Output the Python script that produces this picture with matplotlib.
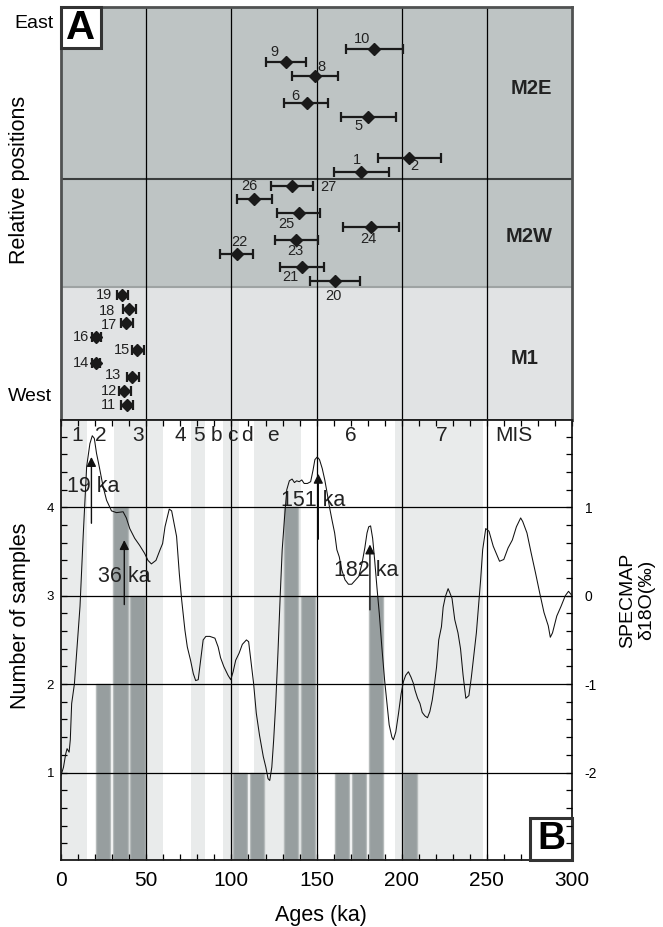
import matplotlib
matplotlib.use("Agg")
import matplotlib.pyplot as plt
from matplotlib.patches import Rectangle
import numpy as np

plt.rcParams['font.family'] = ['Liberation Sans', 'DejaVu Sans']
plt.rcParams['axes.unicode_minus'] = False

# ---------------- data ----------------
# Panel A: sample ages (ka) with error ranges and relative positions (East top -> West bottom)
sample_ids = [10, 9, 8, 6, 5, 2, 1, 27, 26, 25, 24, 23, 22, 21, 20,
              19, 18, 17, 16, 15, 14, 13, 12, 11]
sample_age = [183.9, 131.9, 149.3, 144.1, 180.4, 204.2, 176.2, 135.4, 113.4, 139.6, 181.7, 138.1, 103.0, 141.3, 160.9,
              35.6, 39.9, 38.1, 20.5, 44.6, 20.5, 41.8, 37.1, 38.4]
sample_lo = [167.1, 120.3, 135.6, 130.9, 164.1, 185.9, 160.1, 123.0, 103.5, 126.7, 165.3, 125.5, 93.3, 128.5, 146.0,
             32.9, 36.4, 34.9, 18.0, 41.6, 18.0, 38.4, 33.9, 35.1]
sample_hi = [200.7, 143.8, 162.6, 156.7, 196.5, 223.0, 192.3, 148.0, 124.0, 152.2, 198.3, 150.7, 112.4, 154.2, 175.5,
             39.1, 43.8, 42.3, 23.5, 48.5, 23.0, 45.8, 40.8, 42.3]
sample_pos = [37.1, 35.8, 34.4, 31.7, 30.3, 26.2, 24.8, 23.4, 22.1, 20.7, 19.3, 18.0, 16.6, 15.3, 13.9,
              12.5, 11.1, 9.73, 8.33, 7.0, 5.67, 4.27, 2.93, 1.53]
groups = ["M2E", "M2W", "M1"]

# Panel B: histogram (10 ka bins)
bin_start = [20, 30, 40, 100, 110, 130, 140, 160, 170, 180, 200]
bin_count = [2, 4, 3, 1, 1, 4, 3, 1, 1, 3, 1]

# MIS glacial shading bands (ka)
band_start = [0, 30.9, 76.0, 95.3, 113.4, 196.0]
band_end = [15.3, 60.1, 84.7, 104.7, 140.6, 247.5]
mis_labels = ["1", "2", "3", "4", "5", "b", "c", "d", "e", "6", "7", "MIS"]
mis_ages = [9.4, 23.5, 45.3, 70.0, 81.0, 91.1, 100.3, 109.2, 124.5, 170.0, 223.3, 266.0]

# SPECMAP d18O curve (ka, permil)
spec_age = [0, 1.4, 2.7, 3.5, 4.7, 5.4, 6.2, 7.8, 9.1, 11.1, 13, 15, 16.9, 18.3, 19.5, 20.8, 22.4, 24.7, 26.7,
            29.6, 32.5, 36.4, 38.3, 40.3, 43.2, 46.1, 49, 51, 53, 55.7, 58.1, 59.6, 61, 62.4, 63.5, 64.9, 66.3,
            67.8, 69.4, 70.8, 72.7, 74.1, 76, 77.6, 79, 80.5, 81.9, 83.4, 85, 87.3, 90.3, 92.2, 93.6, 95.5, 98,
            99.6, 101, 102.5, 104.5, 106.4, 108.8, 110.1, 111.7, 113, 114.6, 116.5, 118.7, 120.2, 121.5, 122.5,
            123.7, 124.8, 126, 127.3, 128.7, 129.8, 131.2, 132.5, 134, 135.6, 137, 138.3, 139.8, 141.3, 142.7,
            144.6, 146.5, 147.9, 149, 150.4, 151.7, 153.3, 154.8, 156.2, 157.5, 159, 160.6, 161.9, 163.3, 164.8,
            166.7, 168.7, 170.6, 172.5, 174.8, 176.7, 178.3, 179.6, 180.6, 181.7, 182.9, 184.1, 185.4, 186.8,
            188.3, 189.9, 191.3, 192.6, 194.2, 195.1, 196.5, 198.1, 199.6, 201, 202.3, 203.9, 205.4, 206.8,
            207.8, 209.3, 210.7, 212, 213.6, 215.1, 216.5, 217.9, 219, 220.4, 221.7, 223.3, 224.3, 225.6, 227.2,
            228.3, 229.5, 231.1, 233, 234.5, 236, 237.6, 239.4, 240.8, 242.6, 243.8, 246.3, 247.5, 249.3, 251.2,
            253.7, 257.4, 259.9, 262.4, 264.9, 267.3, 269.8, 271, 273.5, 276, 278.5, 281, 283.5, 286, 287.2,
            288.5, 291, 293.5, 296, 297.9, 300]
spec_d18o = [-2.03, -1.94, -1.79, -1.73, -1.77, -1.63, -1.22, -1.0, -0.65, -0.12, 0.69, 1.46, 1.72, 1.81, 1.78,
             1.61, 1.46, 1.23, 1.08, 0.96, 0.94, 0.95, 0.88, 0.76, 0.65, 0.57, 0.48, 0.40, 0.36, 0.40, 0.52,
             0.59, 0.78, 0.89, 0.98, 0.96, 0.82, 0.67, 0.25, -0.05, -0.39, -0.58, -0.73, -0.88, -0.96, -0.95,
             -0.73, -0.50, -0.46, -0.46, -0.48, -0.58, -0.70, -0.80, -0.90, -0.95, -0.86, -0.73, -0.65, -0.55,
             -0.50, -0.52, -0.78, -0.99, -1.33, -1.58, -1.82, -1.94, -2.07, -2.09, -1.94, -1.63, -1.22, -0.65,
             0.03, 0.52, 0.89, 1.20, 1.30, 1.32, 1.28, 1.30, 1.29, 1.31, 1.27, 1.27, 1.29, 1.42, 1.54, 1.57,
             1.54, 1.44, 1.31, 1.16, 1.01, 0.86, 0.71, 0.52, 0.44, 0.29, 0.18, 0.13, 0.13, 0.17, 0.22, 0.37,
             0.54, 0.71, 0.78, 0.79, 0.65, 0.40, 0.10, -0.20, -0.58, -0.95, -1.22, -1.46, -1.60, -1.63, -1.54,
             -1.33, -1.11, -0.97, -0.90, -0.86, -0.92, -0.99, -1.07, -1.16, -1.22, -1.32, -1.36, -1.38, -1.31,
             -1.18, -1.03, -0.81, -0.50, -0.35, -0.13, -0.01, 0.08, 0.03, -0.03, -0.27, -0.42, -0.60, -0.90,
             -1.16, -1.13, -0.93, -0.63, -0.42, 0.18, 0.52, 0.76, 0.73, 0.56, 0.39, 0.41, 0.54, 0.63, 0.78,
             0.88, 0.84, 0.71, 0.48, 0.26, 0.03, -0.19, -0.34, -0.47, -0.42, -0.23, -0.12, 0.0, 0.05, 0.0]

# arrows marking dated peaks
arrow_labels = ["19 ka", "36 ka", "151 ka", "182 ka"]
arrow_age = [17.8, 37.1, 151.0, 181.3]

# ---------------- styling / layout ----------------
W, H = 663, 927
fig = plt.figure(figsize=(W / 100, H / 100), dpi=100)
fig.patch.set_facecolor('white')

def fx(px):
    return px / W

def fy(py):
    return 1 - py / H

ax_left_px, ax_right_px = 61.1, 572.1
axA = fig.add_axes([fx(ax_left_px), fy(420), (ax_right_px - ax_left_px) / W, (420 - 7.3) / H])
axB = fig.add_axes([fx(ax_left_px), fy(859.5), (ax_right_px - ax_left_px) / W, (859.5 - 420) / H])

# ---------- Panel A ----------
axA.set_xlim(0, 300)
axA.set_ylim(0, 41.27)
b_m1, b_m2 = 13.3, 24.1
axA.axhspan(b_m2, 41.27, color='#bec4c4', zorder=0, lw=0)
axA.axhspan(b_m1, b_m2, color='#bec4c4', zorder=0, lw=0)
axA.axhspan(0, b_m1, color='#e1e3e4', zorder=0, lw=0)
axA.axhline(b_m2, color='#3a3d3d', lw=1.5, zorder=1)
axA.axhline(b_m1, color='#9ea3a3', lw=1.5, zorder=1)
for xv in [50, 100, 150, 200, 250]:
    axA.axvline(xv, color='black', lw=0.9, zorder=1)
axA.set_xticks([])
axA.set_yticks([])
for s in axA.spines.values():
    s.set_color('#505252')
    s.set_linewidth(2.0)

age = np.array(sample_age)
err = np.vstack([age - np.array(sample_lo), np.array(sample_hi) - age])
axA.errorbar(age, sample_pos, xerr=err, fmt='D', color='#1a1a1a', ms=5.8, elinewidth=1.6,
             capsize=3.8, capthick=1.6, zorder=4)

label_off = {10: (-11.8, -10), 9: (-11.8, -9.7), 8: (5.9, -8.7), 6: (-11.4, -7.3), 5: (-9.7, 9.3),
             2: (5.1, 7.7), 1: (-4.2, -12.3), 27: (36.7, 1), 26: (-4.6, -12.7), 25: (-12.6, 11.3),
             24: (-2.5, 12), 23: (-1.3, 10.7), 22: (2.5, -12.3), 21: (-11.8, 10), 20: (-1.3, 15),
             19: (-17.3, 0), 18: (-22.3, 1.7), 17: (-17.3, 2), 16: (-15.2, 0), 15: (-15.2, 0),
             14: (-15.2, 0), 13: (-19.4, -2), 12: (-15.6, 0), 11: (-18.5, 0)}
for sid, a, p in zip(sample_ids, sample_age, sample_pos):
    dx, dy = label_off[sid]
    axA.annotate(str(sid), (a, p), xytext=(dx, -dy), textcoords='offset pixels',
                 ha='center', va='center', fontsize=10.5, color='#222222', zorder=5)

grp_px = [(531, 88), (529, 237), (525, 358)]
for g, (gx, gy) in zip(groups, grp_px):
    fig.text(fx(gx), fy(gy), g, ha='center', va='center', fontsize=14.5, fontweight='bold', color='#222222')

# A box
axA.add_patch(Rectangle((0, 0.9007), 0.0775, 0.0993, transform=axA.transAxes, facecolor='white',
                        edgecolor='#333333', lw=2.2, zorder=6, clip_on=False))
axA.text(0.03875, 0.9503, 'A', transform=axA.transAxes, ha='center', va='center', fontsize=29,
         fontweight='bold', zorder=7)

fig.text(fx(33.7), fy(24), 'East', ha='center', va='center', fontsize=14)
fig.text(fx(29.5), fy(396.7), 'West', ha='center', va='center', fontsize=14)
fig.text(fx(20), fy(180), 'Relative positions', ha='center', va='center', rotation=90, fontsize=15.5)

# ---------- Panel B ----------
axB.set_xlim(0, 300)
axB.set_ylim(0.016, 4.988)
for s0, s1 in zip(band_start, band_end):
    axB.axvspan(s0, s1, color='#e9ebeb', lw=0, zorder=0)
axB.bar(np.array(bin_start) + 0.7, bin_count, width=8.3, align='edge', color='#979e9f',
        edgecolor='#b5baba', linewidth=1.0, zorder=1)
for yv in [1, 2, 3, 4]:
    axB.axhline(yv, color='black', lw=0.9, zorder=2)
for xv in [50, 100, 150, 200, 250]:
    axB.axvline(xv, color='black', lw=0.9, zorder=2)

axB.set_xticks(np.arange(0, 301, 50))
axB.set_xticks(np.arange(0, 301, 10), minor=True)
axB.set_yticks([1, 2, 3, 4])
axB.set_yticks(np.arange(0.2, 4.9, 0.2), minor=True)
axB.tick_params(axis='x', which='both', direction='in', top=True, length=4.5, width=0.9,
                labelsize=15, pad=8)
axB.tick_params(axis='y', which='both', direction='in', length=4.5, width=0.9, labelsize=9.5, pad=5)
for s in axB.spines.values():
    s.set_linewidth(1.3)
    s.set_color('#1a1a1a')

axR = axB.twinx()
axR.set_ylim(0.016 - 3, 4.988 - 3)
axR.plot(spec_age, spec_d18o, color='#111111', lw=0.75, zorder=3)
axR.set_yticks([-2, -1, 0, 1])
axR.set_yticklabels(['-2', '-1', '0', '1'])
axR.set_yticks(np.arange(-2.8, 1.9, 0.2), minor=True)
axR.tick_params(axis='y', which='both', direction='in', length=4.5, width=0.9, labelsize=10, pad=9)
for s in axR.spines.values():
    s.set_visible(False)

for lab, a in zip(mis_labels, mis_ages):
    axB.text(a, 4.81, lab, ha='center', va='center', fontsize=15, color='#222222', zorder=4)

arrow_base = [3.82, 2.90, 3.64, 2.84]
arrow_tip = [4.57, 3.63, 4.38, 3.58]
text_xy = [(19.0, 4.24), (37.0, 3.22), (148.0, 4.08), (179.0, 3.28)]
for lab, a, b0, t0, (tx, ty) in zip(arrow_labels, arrow_age, arrow_base, arrow_tip, text_xy):
    axB.text(tx, ty, lab, ha='center', va='center', fontsize=15.5, color='#222222', zorder=5)
    axB.annotate('', xy=(a, t0), xytext=(a, b0),
                 arrowprops=dict(arrowstyle='-|>', color='#111111', lw=1.0, mutation_scale=14,
                                 shrinkA=0, shrinkB=0), zorder=6)

axB.add_patch(Rectangle((0.9185, 0.0), 0.0815, 0.095, transform=axB.transAxes, facecolor='white',
                        edgecolor='#333333', lw=2.2, zorder=6, clip_on=False))
axB.text(0.95925, 0.0475, 'B', transform=axB.transAxes, ha='center', va='center', fontsize=28,
         fontweight='bold', zorder=7)

fig.text(fx(21), fy(616), 'Number of samples', ha='center', va='center', rotation=90, fontsize=15.5)
fig.text(fx(637), fy(600), 'SPECMAP\nδ18O(‰)', ha='center', va='center', rotation=90,
         fontsize=14, linespacing=1.2)
fig.text(fx(321), fy(915), 'Ages (ka)', ha='center', va='center', fontsize=15.5)

fig.savefig('out.png', dpi=100)
